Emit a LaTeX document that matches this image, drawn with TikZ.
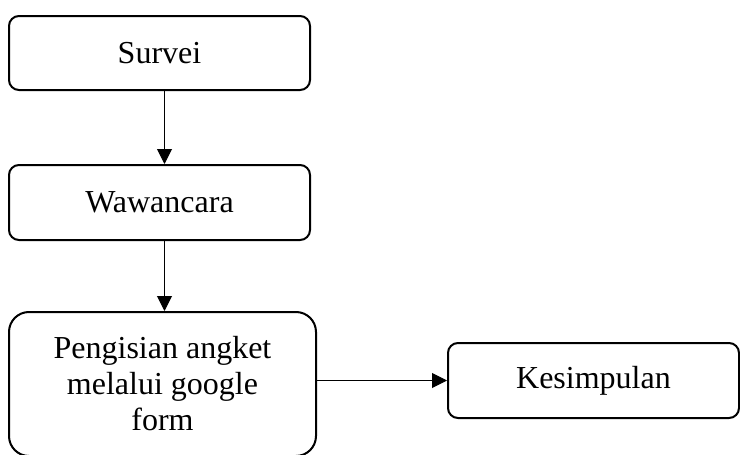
\documentclass[tikz,border=0pt]{standalone}
\usepackage{fontspec}
\setmainfont{Liberation Serif}
\usetikzlibrary{arrows.meta}
\begin{document}
\begin{tikzpicture}[x=1pt,y=-1pt,
  stepbox/.style={draw, line width=2pt, rounded corners=10pt, inner sep=0pt,
    font=\fontsize{32}{36}\selectfont, align=center},
  conn/.style={line width=1pt, -{Triangle[length=15pt,width=15pt]}}]
\useasboundingbox (0,0) rectangle (740,455);
\node[stepbox, minimum width=301pt, minimum height=74pt] (survei) at (159.5,53) {Survei};
\node[stepbox, minimum width=301pt, minimum height=75pt] (wawancara) at (159.5,202.5) {Wawancara};
\node[stepbox, rounded corners=20pt, minimum width=307pt, minimum height=144pt] (pengisian) at (162.5,384) {Pengisian angket\\melalui google\\form};
\node[stepbox, minimum width=291pt, minimum height=75pt] (kesimpulan) at (593.5,380.5) {Kesimpulan};
\draw[conn] ([xshift=5pt]survei.south) -- ([xshift=5pt]wawancara.north);
\draw[conn] ([xshift=5pt]wawancara.south) -- ([xshift=2pt]pengisian.north);
\draw[conn] (pengisian.east |- kesimpulan.west) -- (kesimpulan.west);
\end{tikzpicture}
\end{document}
